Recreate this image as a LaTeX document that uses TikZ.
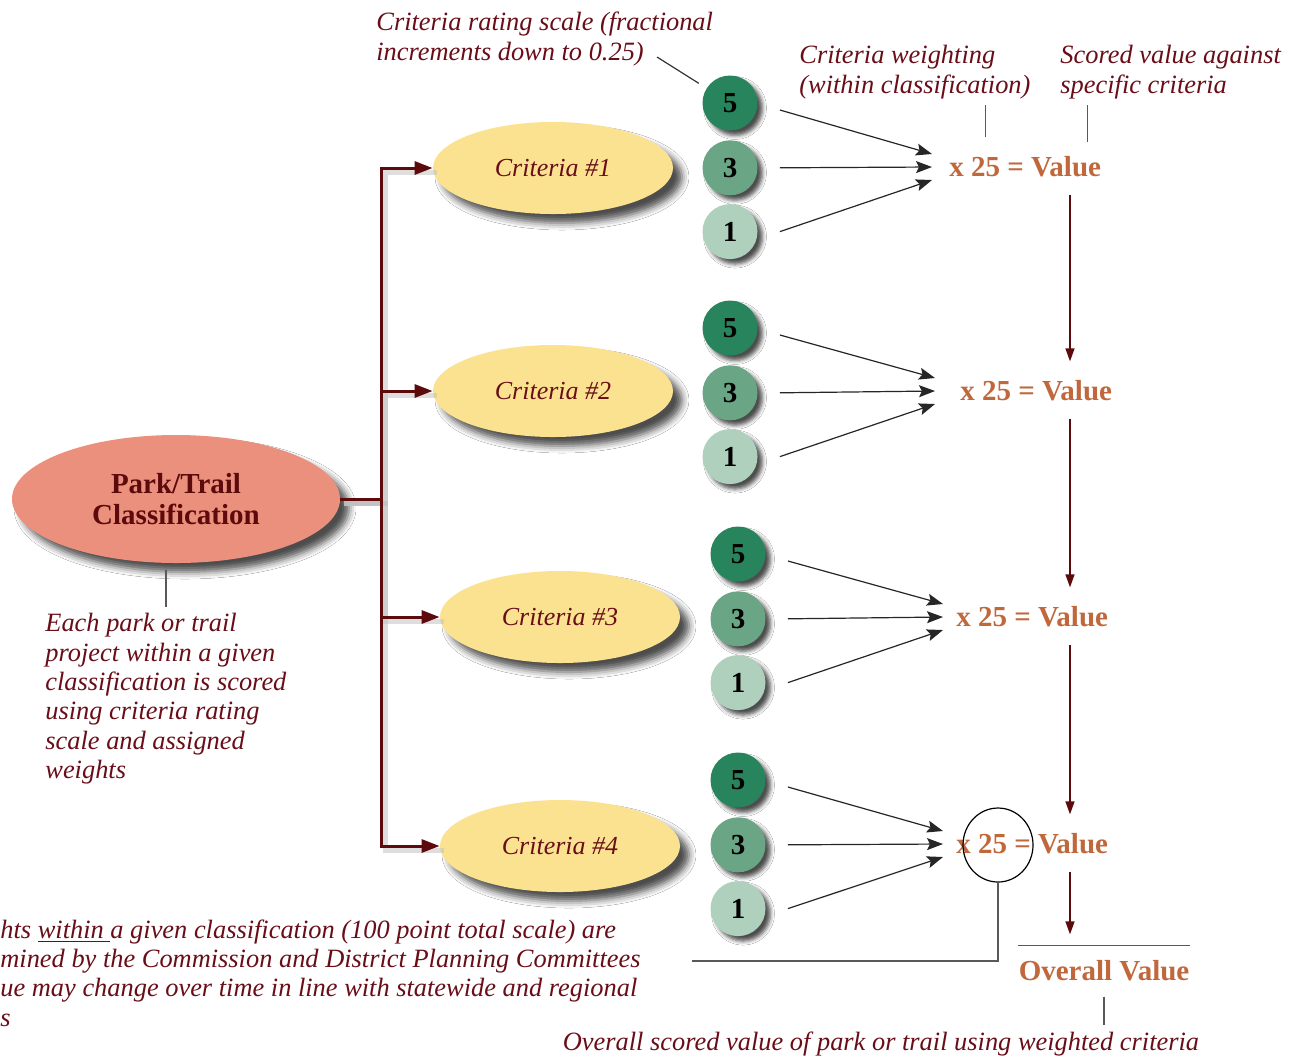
\documentclass[tikz,border=0pt]{standalone}
\usepackage{fontspec}
\setmainfont{Liberation Serif}
\usetikzlibrary{shapes.geometric, arrows.meta, positioning, calc, shadows.blur}

\definecolor{ink}{RGB}{105,14,24}
\definecolor{maroon}{RGB}{92,10,12}
\definecolor{rust}{RGB}{192,104,60}
\definecolor{salmon}{RGB}{234,144,124}
\definecolor{wheat}{RGB}{251,226,145}
\definecolor{greenhi}{RGB}{40,132,92}
\definecolor{greenmid}{RGB}{106,166,134}
\definecolor{greenlo}{RGB}{176,208,190}

\begin{document}
\begin{tikzpicture}[x=0.5pt, y=-0.5pt, inner sep=3pt,
  note/.style = {align=left, text=ink, font=\fontsize{13.2}{14.7}\selectfont\itshape},
  classnode/.style = {ellipse, fill=salmon, minimum width=164pt, minimum height=64pt, align=center,
    text=maroon, font=\fontsize{14.5}{15.5}\selectfont\bfseries,
    blur shadow={shadow xshift=4.5pt, shadow yshift=-4.5pt, shadow blur radius=3.5pt, shadow opacity=70}},
  crit/.style = {ellipse, fill=wheat, minimum width=120pt, minimum height=46pt, text=ink,
    font=\fontsize{13}{15}\selectfont\itshape,
    blur shadow={shadow xshift=4.5pt, shadow yshift=-4.5pt, shadow blur radius=3.5pt, shadow opacity=70}},
  score/.style = {circle, minimum size=27.5pt, inner sep=0pt, font=\fontsize{14.5}{16}\selectfont\bfseries,
    blur shadow={shadow xshift=2.5pt, shadow yshift=-2.5pt, shadow blur radius=2pt, shadow opacity=70}},
  value/.style = {text=rust, font=\fontsize{14.5}{16}\selectfont\bfseries, inner xsep=0pt, inner ysep=2pt},
  trunk/.style = {draw=maroon, line width=1.5pt, -{Triangle[length=9pt,width=6.5pt]}},
  trunkshade/.style = {draw=black!25, opacity=.5, line width=2.5pt, transform canvas={shift={(2pt,-2pt)}}},
  feed/.style = {draw=black!85, line width=0.6pt, -{Stealth[length=8pt,width=6pt,inset=1.5pt]}},
  carry/.style = {draw=maroon, line width=0.7pt, shorten <=6.5pt, shorten >=7.5pt, -{Triangle[length=6.5pt,width=4.5pt]}},
  pointer/.style = {draw=black!65, line width=0.6pt}]

\fill[white] (0,0) rectangle (1299,1057);
\useasboundingbox (0,0) rectangle (1299,1057);

% classification and the four criteria
\node[classnode] (park) at (176,499) {Park/Trail\\Classification};
\node[crit] (c1) at (553,168) {Criteria \#1};
\node[crit] (c2) at (553,391) {Criteria \#2};
\node[crit] (c3) at (560,617) {Criteria \#3};
\node[crit] (c4) at (560,846) {Criteria \#4};

\coordinate (fork) at (381,499);
\foreach \c in {c1,c2,c3,c4}
  \draw[trunkshade] (park.east) -- (fork) |- (\c.west);
\foreach \c in {c1,c2,c3,c4}
  \draw[trunk] (park.east) -- (fork) |- (\c.west);

% rating scale circles, weighting and values
\foreach \g/\cx/\cy/\tx/\vy/\gap in {1/730/103/949/167/8.5pt, 2/730/328/960/391/12.5pt,
                                     3/738/554/956/617/6.5pt, 4/738/780/956/844/6.5pt} {
  \node[score, fill=greenhi] (g\g a) at (\cx,\cy) {5};
  \node[score, fill=greenmid, below=4.5pt of g\g a] (g\g b) {3};
  \node[score, fill=greenlo, below=4pt of g\g b] (g\g c) {1};
  \node[value, anchor=west] (v\g) at (\tx,\vy) {x 25 = Value};
  \draw[feed] ([xshift=11pt,yshift=-3.5pt]g\g a.east) -- ([xshift=-\gap,yshift=6.5pt]v\g.west);
  \draw[feed] ([xshift=11pt]g\g b.east) -- ([xshift=-\gap]v\g.west);
  \draw[feed] ([xshift=11pt]g\g c.east) -- ([xshift=-\gap,yshift=-6.5pt]v\g.west);
}

\node[value, inner ysep=7.5pt] (ov) at (1104,971) {Overall Value};
\draw[pointer] (ov.north west) -- (ov.north east);

\coordinate (col) at (1070,0);
\draw[carry] (v1.south -| col) -- (v2.north -| col);
\draw[carry] (v2.south -| col) -- (v3.north -| col);
\draw[carry] (v3.south -| col) -- (v4.north -| col);
\draw[carry, shorten >=5.5pt] (v4.south -| col) -- (ov.north -| col);

% notes
\node[note, anchor=north west] (rnote) at (370,6) {Criteria rating scale (fractional\\increments down to 0.25)};
\node[note, anchor=north west] (wnote) at (793,39) {Criteria weighting\\(within classification)};
\node[note, anchor=north west] (snote) at (1054,39) {Scored value against\\specific criteria};
\node[note, anchor=north west] (pnote) at (39,607) {Each park or trail\\project within a given\\classification is scored\\using criteria rating\\scale and assigned\\weights};
\node[note, anchor=north west] (bnote) at (-6,913) {hts \underline{within\ }a given classification (100 point total scale) are\\mined by the Commission and District Planning Committees\\ue may change over time in line with statewide and regional\\s};
\node[note, anchor=north] (ovnote) at (881,1025) {Overall scored value of park or trail using weighted criteria};

\coordinate (rtail) at (657,57);
\draw[pointer, draw=black!80, shorten >=4.5pt] (rtail) -- (g1a);
\draw[pointer] ([xshift=-20pt,yshift=7.5pt]v1.north) -- ([xshift=-20pt]v1.north |- wnote.south);
\draw[pointer] ([xshift=31pt,yshift=5pt]v1.north) -- ([xshift=31pt]v1.north |- snote.south);
\draw[pointer] ([xshift=-5pt,yshift=-3.5pt]park.south) -- ([xshift=-5pt]park.south |- pnote.north);
\draw[pointer] (ov.south) -- (ov.south |- ovnote.north);

\node[draw, ellipse, line width=0.6pt, minimum width=35pt, minimum height=37pt] (ring) at (998,845) {};
\coordinate (bend) at (692,961);
\draw[pointer] (ring.south) |- (bend);
\end{tikzpicture}
\end{document}
